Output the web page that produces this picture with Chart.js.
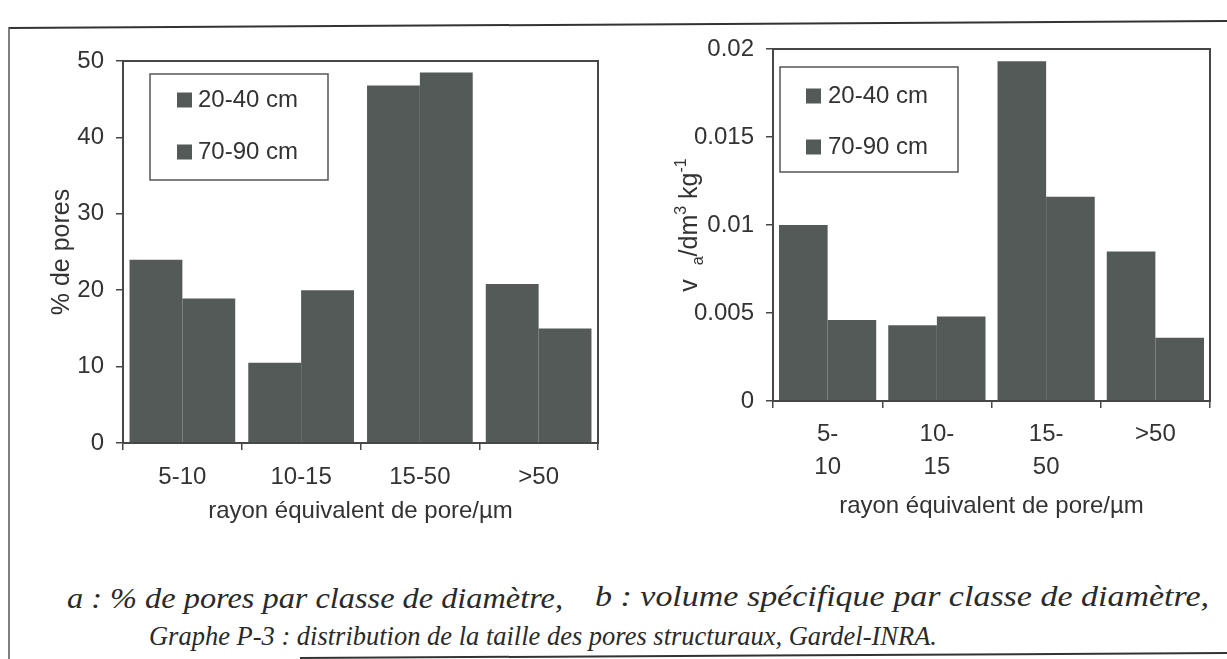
<!DOCTYPE html>
<html>
<head>
<meta charset="utf-8">
<script src="https://cdn.jsdelivr.net/npm/chart.js@4.4.1/dist/chart.umd.min.js"></script>
<style>
  html, body { margin: 0; padding: 0; background: #fff; }
  body { width: 1227px; height: 659px; position: relative; overflow: hidden; }
  .chartbox { position: absolute; top: 0; }
  .caption {
    position: absolute; font-family: "Liberation Serif", "DejaVu Serif", serif;
    font-style: italic; font-size: 27px; line-height: 1; color: #2a2a2a;
    white-space: nowrap; transform-origin: left center;
  }
  .caption.sub { font-size: 30px; }
  svg.frame { position: absolute; left: 0; top: 0; }
</style>
</head>
<body>
<svg class="frame" width="1227" height="659">
  <line x1="9" y1="28" x2="1227" y2="21" stroke="#333" stroke-width="2"/>
  <line x1="9" y1="27" x2="9" y2="659" stroke="#555" stroke-width="1.5"/>
  <line x1="300" y1="658" x2="1227" y2="653" stroke="#333" stroke-width="2"/>
</svg>
<div class="chartbox" style="left:0"><canvas id="chartA" width="615" height="530"></canvas></div>
<div class="chartbox" style="left:615px"><canvas id="chartB" width="612" height="530"></canvas></div>
<div class="caption sub" id="capA" style="left:67px; top:583px">a : % de pores par classe de diamètre,</div>
<div class="caption sub" id="capB" style="left:595px; top:581px">b : volume spécifique par classe de diamètre,</div>
<div class="caption" id="capC" style="left:149px; top:623px">Graphe P-3 : distribution de la taille des pores structuraux, Gardel-INRA.</div>
<script>
// categories and series
const classesA = ['5-10', '10-15', '15-50', '>50'];
const classesB = [['5-', '10'], ['10-', '15'], ['15-', '50'], ['>50']];
const seriesNames = ['20-40 cm', '70-90 cm'];

// graph a : % de pores
const pores2040 = [24, 10.5, 46.8, 20.8];
const pores7090 = [18.9, 20, 48.5, 15];
const ticksA = [0, 10, 20, 30, 40, 50];

// graph b : volume specifique
const volume2040 = [0.0100, 0.0043, 0.0193, 0.0085];
const volume7090 = [0.0046, 0.0048, 0.0116, 0.0036];
const ticksB = ['0', '0.005', '0.01', '0.015', '0.02'];

const barColor = '#535a57';
const inkColor = '#333333';
const axisColor = '#474747';
const sansFont = '"Liberation Sans", Arial, sans-serif';

Chart.defaults.font.family = sansFont;
Chart.defaults.color = inkColor;

// Frame round the plot area
const plotFrame = {
    id: 'plotFrame',
    afterDraw(chart) {
        const {ctx, chartArea: a} = chart;
        ctx.save();
        ctx.strokeStyle = axisColor;
        ctx.lineWidth = 2;
        ctx.strokeRect(a.left, a.top, a.right - a.left, a.bottom - a.top);
        ctx.restore();
    }
};

// Legend drawn as a boxed list inside the plot
const boxLegend = {
    id: 'boxLegend',
    afterDraw(chart, args, opts) {
        const ctx = chart.ctx;
        ctx.save();
        ctx.fillStyle = '#fff';
        ctx.fillRect(opts.x, opts.y, opts.w, opts.h);
        ctx.strokeStyle = '#555';
        ctx.lineWidth = 1.5;
        ctx.strokeRect(opts.x, opts.y, opts.w, opts.h);
        ctx.font = '24px ' + sansFont;
        ctx.textBaseline = 'middle';
        chart.data.datasets.forEach((ds, i) => {
            const cy = opts.y + opts.first + i * opts.gap;
            ctx.fillStyle = ds.backgroundColor;
            ctx.fillRect(opts.sx, cy - opts.size / 2, opts.size, opts.size);
            ctx.fillStyle = inkColor;
            ctx.fillText(ds.label, opts.tx, cy);
        });
        ctx.restore();
    }
};

// y title of graph b, with sub- and superscripts
const unitTitle = {
    id: 'unitTitle',
    afterDraw(chart, args, opts) {
        if (!opts.parts) return;
        const ctx = chart.ctx;
        ctx.save();
        ctx.translate(opts.x, opts.y);
        ctx.rotate(-Math.PI / 2);
        ctx.fillStyle = inkColor;
        ctx.textBaseline = 'alphabetic';
        let total = 0;
        opts.parts.forEach(p => {
            ctx.font = p.size + 'px ' + sansFont;
            p.w = ctx.measureText(p.text).width;
            total += p.w;
        });
        let x = -total / 2;
        opts.parts.forEach(p => {
            ctx.font = p.size + 'px ' + sansFont;
            ctx.fillText(p.text, x, 8 + p.shift);
            x += p.w;
        });
        ctx.restore();
    }
};

const fixWidth = (w) => (scale) => { scale.width = w; };
const fixHeight = (h) => (scale) => { scale.height = h; };

const makeChart = (id, labels, d1, d2, yOpts, pad, yWidth, xHeight, lineH, legendOpts, titleOpts) => {
    return new Chart(document.getElementById(id).getContext('2d'), {
        type: 'bar',
        data: {
            labels: labels,
            datasets: [
                { label: seriesNames[0], data: d1, backgroundColor: barColor, borderWidth: 0 },
                { label: seriesNames[1], data: d2, backgroundColor: barColor, borderWidth: 0 }
            ]
        },
        options: {
            responsive: false,
            animation: false,
            layout: { padding: pad },
            categoryPercentage: 0.89,
            barPercentage: 1.0,
            scales: {
                x: {
                    grid: { display: true, drawOnChartArea: false, tickLength: 7, color: axisColor, lineWidth: 1.5 },
                    border: { display: true, color: axisColor, width: 2 },
                    ticks: { padding: lineH.pad, font: { size: 24, lineHeight: lineH.lh }, color: inkColor, maxRotation: 0, autoSkip: false },
                    title: { display: true, text: 'rayon équivalent de pore/µm', font: { size: 24 }, padding: { top: 0, bottom: 4 }, color: inkColor },
                    afterFit: fixHeight(xHeight)
                },
                y: Object.assign({
                    beginAtZero: true,
                    grid: { display: true, drawOnChartArea: false, tickLength: 7, color: axisColor, lineWidth: 1.5 },
                    border: { display: true, color: axisColor, width: 2 },
                    afterFit: fixWidth(yWidth)
                }, yOpts)
            },
            plugins: {
                legend: { display: false },
                tooltip: { enabled: false },
                boxLegend: legendOpts,
                unitTitle: titleOpts
            }
        },
        plugins: [plotFrame, boxLegend, unitTitle]
    });
};

makeChart('chartA', classesA, pores2040, pores7090, {
    min: ticksA[0], max: ticksA[ticksA.length - 1],
    ticks: { stepSize: 10, padding: 12, font: { size: 24 }, color: inkColor },
    title: { display: true, text: '% de pores', font: { size: 25 }, color: inkColor, padding: { top: 47, bottom: 0 } }
}, { top: 61, right: 17, bottom: 0, left: 0 }, 123, 87, { pad: 13, lh: 1.2 },
   { x: 150, y: 74, w: 178, h: 106, first: 26, gap: 52, sx: 177, size: 15, tx: 198 }, {});

makeChart('chartB', classesB, volume2040, volume7090, {
    min: 0, max: 0.02,
    ticks: { stepSize: 0.005, padding: 12, font: { size: 24 }, color: inkColor,
             callback: (v, i) => ticksB[i] },
    title: { display: false }
}, { top: 49, right: 17, bottom: 5, left: 0 }, 158, 124, { pad: 10, lh: 1.375 },
   { x: 165, y: 67, w: 178, h: 105, first: 29, gap: 51, sx: 191, size: 15, tx: 213 },
   { x: 74, y: 225, parts: [
       { text: 'v', size: 25, shift: 0 },
       { text: '  ', size: 25, shift: 0 },
       { text: 'a', size: 16, shift: 6 },
       { text: '/dm', size: 25, shift: 0 },
       { text: '3', size: 16, shift: -11 },
       { text: ' kg', size: 25, shift: 0 },
       { text: '-1', size: 16, shift: -11 }
   ] });

// scale the captions horizontally to the width of the scanned text
const fitCaption = (id, width) => {
    const el = document.getElementById(id);
    const w = el.getBoundingClientRect().width;
    el.style.transform = 'scaleX(' + (width / w) + ')';
};
fitCaption('capA', 496);
fitCaption('capB', 614);
fitCaption('capC', 788);
</script>
</body>
</html>
